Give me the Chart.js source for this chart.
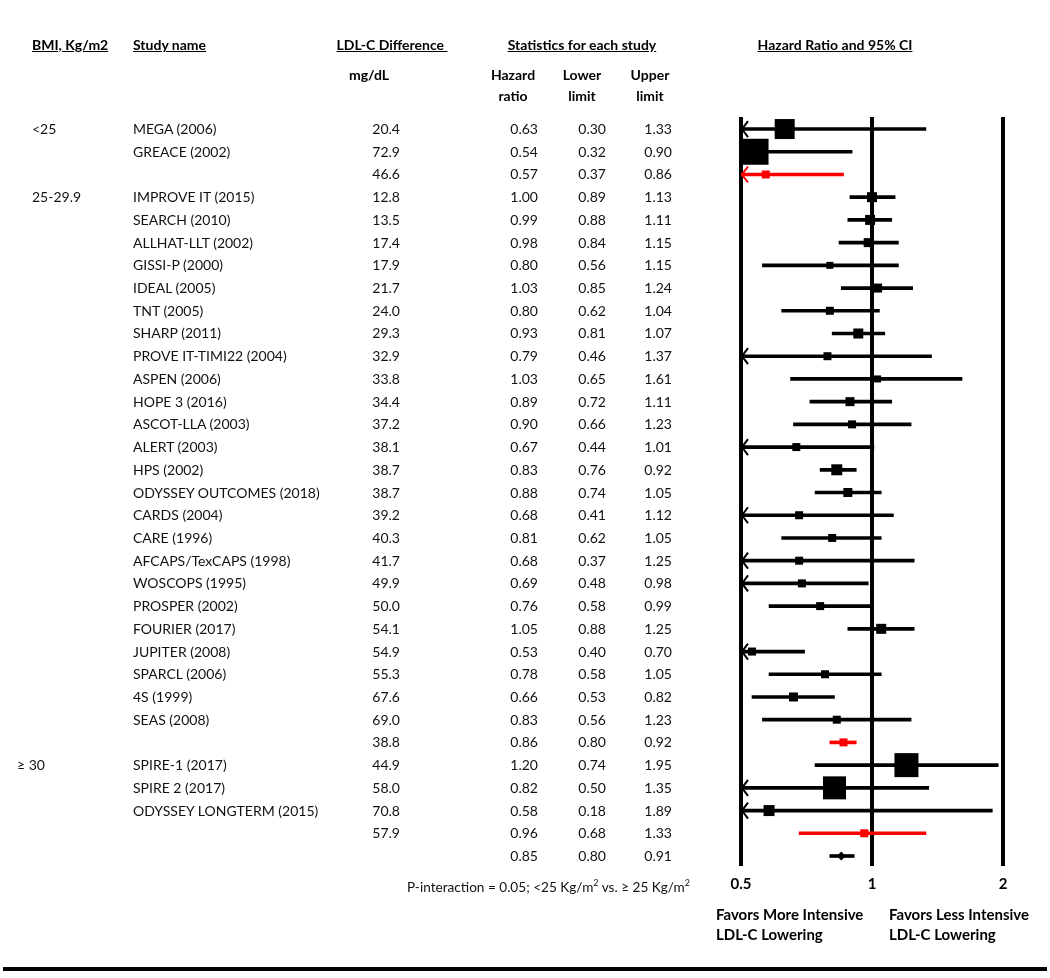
<!DOCTYPE html>
<html lang="en">
<head>
    <meta charset="UTF-8">
    <title>LDL-C lowering by BMI - forest plot</title>
    <script src="https://cdn.jsdelivr.net/npm/chart.js"></script>
    <style>
        body {
            margin: 0;
            background: #fff;
            font-family: Lato, "Noto Sans", sans-serif;
            color: #111;
        }
        #wrap {
            position: relative;
            width: 1050px;
            height: 978px;
            overflow: hidden;
        }
        #forest {
            position: absolute;
            left: 0;
            top: 0;
        }
        .t {
            position: absolute;
            height: 20px;
            line-height: 20px;
            font-size: 14px;
            white-space: nowrap;
        }
        .hd {
            font-weight: bold;
            color: #000;
        }
        .ul {
            text-decoration: underline;
        }
        .note {
            font-size: 13.6px;
        }
        .favor {
            font-size: 15px;
        }
        .rule {
            position: absolute;
            left: 3px;
            top: 967px;
            width: 1044px;
            height: 4px;
            background: #000;
        }
    </style>
</head>
<body>
<div id="wrap">
    <canvas id="forest" width="1050" height="978"></canvas>
    <div class="rule"></div>
</div>

<script>
    // rows, top to bottom ('' = pooled / overall row)
    const studyNames = ['MEGA (2006)', 'GREACE (2002)', '',
        'IMPROVE IT (2015)', 'SEARCH (2010)', 'ALLHAT-LLT (2002)', 'GISSI-P (2000)', 'IDEAL (2005)',
        'TNT (2005)', 'SHARP (2011)', 'PROVE IT-TIMI22 (2004)', 'ASPEN (2006)', 'HOPE 3 (2016)',
        'ASCOT-LLA (2003)', 'ALERT (2003)', 'HPS (2002)', 'ODYSSEY OUTCOMES (2018)', 'CARDS (2004)',
        'CARE (1996)', 'AFCAPS/TexCAPS (1998)', 'WOSCOPS (1995)', 'PROSPER (2002)', 'FOURIER (2017)',
        'JUPITER (2008)', 'SPARCL (2006)', '4S (1999)', 'SEAS (2008)', '',
        'SPIRE-1 (2017)', 'SPIRE 2 (2017)', 'ODYSSEY LONGTERM (2015)', '', ''];
    const ldlDiff = [20.4, 72.9, 46.6,
        12.8, 13.5, 17.4, 17.9, 21.7, 24.0, 29.3, 32.9, 33.8, 34.4, 37.2, 38.1, 38.7, 38.7,
        39.2, 40.3, 41.7, 49.9, 50.0, 54.1, 54.9, 55.3, 67.6, 69.0, 38.8,
        44.9, 58.0, 70.8, 57.9, null];
    const hazardRatio = [0.63, 0.54, 0.57,
        1.00, 0.99, 0.98, 0.80, 1.03, 0.80, 0.93, 0.79, 1.03, 0.89, 0.90, 0.67, 0.83, 0.88,
        0.68, 0.81, 0.68, 0.69, 0.76, 1.05, 0.53, 0.78, 0.66, 0.83, 0.86,
        1.20, 0.82, 0.58, 0.96, 0.85];
    const lowerLimit = [0.30, 0.32, 0.37,
        0.89, 0.88, 0.84, 0.56, 0.85, 0.62, 0.81, 0.46, 0.65, 0.72, 0.66, 0.44, 0.76, 0.74,
        0.41, 0.62, 0.37, 0.48, 0.58, 0.88, 0.40, 0.58, 0.53, 0.56, 0.80,
        0.74, 0.50, 0.18, 0.68, 0.80];
    const upperLimit = [1.33, 0.90, 0.86,
        1.13, 1.11, 1.15, 1.15, 1.24, 1.04, 1.07, 1.37, 1.61, 1.11, 1.23, 1.01, 0.92, 1.05,
        1.12, 1.05, 1.25, 0.98, 0.99, 1.25, 0.70, 1.05, 0.82, 1.23, 0.92,
        1.95, 1.35, 1.89, 1.33, 0.91];
    // relative study weight (drawn as square side)
    const studyWeight = [20, 26, 8,
        10, 10, 9, 7, 9, 8, 10, 8, 7, 9, 8, 8, 11, 9,
        8, 8, 8, 8, 8, 10, 8, 8, 9, 8, 8,
        24, 23, 11, 8, 9];
    const rowKind = ['study', 'study', 'pooled',
        'study', 'study', 'study', 'study', 'study', 'study', 'study', 'study', 'study', 'study',
        'study', 'study', 'study', 'study', 'study', 'study', 'study', 'study', 'study', 'study',
        'study', 'study', 'study', 'study', 'pooled',
        'study', 'study', 'study', 'pooled', 'overall'];
    const groupLabels = ['<25', '25-29.9', '\u2265 30'];
    const groupRows = [0, 3, 28];
    const xTicks = [0.5, 1, 2];

    const rowColor = (i) => rowKind[i] === 'pooled' ? '#ff0000' : '#000000';
    const colors = hazardRatio.map((_, i) => rowColor(i));

    // "<" mark where the interval runs past the left end of the axis
    const arrowPlugin = {
        id: 'ciArrows',
        afterDatasetDraw(chart, args) {
            if (args.index !== 0) return;
            const ctx = chart.ctx;
            const x = chart.scales.x, y = chart.scales.y;
            const x0 = x.getPixelForValue(xTicks[0]);
            ctx.save();
            ctx.lineWidth = 2;
            lowerLimit.forEach((lo, i) => {
                if (lo > xTicks[0]) return;
                const py = y.getPixelForValue(i);
                ctx.strokeStyle = colors[i];
                ctx.beginPath();
                ctx.moveTo(x0 + 7, py - 8);
                ctx.lineTo(x0 + 1, py);
                ctx.lineTo(x0 + 7, py + 8);
                ctx.stroke();
            });
            ctx.restore();
        }
    };

    const chart = new Chart(document.getElementById('forest'), {
        type: 'scatter',
        data: {
            datasets: [{
                type: 'bar',
                indexAxis: 'y',
                data: hazardRatio.map((_, i) => ({ y: i, x: [lowerLimit[i], upperLimit[i]] })),
                backgroundColor: colors,
                barThickness: 3,
                borderWidth: 0,
                clip: 0,
                order: 2
            }, {
                type: 'scatter',
                data: hazardRatio.map((v, i) => ({ x: v, y: i })),
                pointStyle: rowKind.map(k => k === 'overall' ? 'rectRot' : 'rect'),
                pointRadius: studyWeight.map((w, i) => rowKind[i] === 'overall' ? w / 2 : w / Math.SQRT2),
                backgroundColor: colors,
                borderWidth: 0,
                clip: false,
                order: 1
            }]
        },
        options: {
            responsive: false,
            animation: false,
            events: [],
            layout: {
                padding: { left: 741, right: 47, top: 117, bottom: 76 }
            },
            scales: {
                x: {
                    type: 'logarithmic',
                    min: 0.5,
                    max: 2,
                    offset: false,
                    afterBuildTicks: (axis) => { axis.ticks = xTicks.map(v => ({ value: v })); },
                    grid: { color: '#000', lineWidth: 4, drawTicks: false, offset: false },
                    border: { display: false },
                    ticks: {
                        padding: 9,
                        color: '#000',
                        font: { family: 'Lato', size: 15, weight: 'bold' },
                        callback: (v) => String(v)
                    }
                },
                y: {
                    type: 'linear',
                    reverse: true,
                    offset: false,
                    beginAtZero: false,
                    grid: { offset: false },
                    min: -0.53,
                    max: 32.44,
                    display: false
                }
            },
            plugins: {
                legend: { display: false },
                tooltip: { enabled: false }
            }
        },
        plugins: [arrowPlugin]
    });

    // table text, placed on the chart's own row positions
    const wrap = document.getElementById('wrap');
    function addText(txt, x, y, align, cls) {
        const d = document.createElement('div');
        d.className = 't ' + (cls || '');
        d.innerHTML = txt;
        d.style.top = (y - 10) + 'px';
        if (align === 'left') {
            d.style.left = x + 'px';
        } else if (align === 'right') {
            d.style.left = (x - 200) + 'px';
            d.style.width = '200px';
            d.style.textAlign = 'right';
        } else {
            d.style.left = (x - 150) + 'px';
            d.style.width = '300px';
            d.style.textAlign = 'center';
        }
        wrap.appendChild(d);
    }

    addText('BMI, Kg/m2', 32, 45, 'left', 'hd ul');
    addText('Study name', 133, 45, 'left', 'hd ul');
    addText('LDL-C Difference&nbsp;', 392, 45, 'center', 'hd ul');
    addText('mg/dL', 369, 75, 'center', 'hd');
    addText('Statistics for each study', 582, 45, 'center', 'hd ul');
    addText('Hazard Ratio and 95% CI', 835, 45, 'center', 'hd ul');
    addText('Hazard', 513, 75, 'center', 'hd');
    addText('ratio', 513, 96, 'center', 'hd');
    addText('Lower', 582, 75, 'center', 'hd');
    addText('limit', 582, 96, 'center', 'hd');
    addText('Upper', 650, 75, 'center', 'hd');
    addText('limit', 650, 96, 'center', 'hd');

    const yScale = chart.scales.y;
    groupLabels.forEach((g, k) => {
        addText(g, k === 2 ? 17 : 32, yScale.getPixelForValue(groupRows[k]), 'left');
    });
    studyNames.forEach((name, i) => {
        const py = yScale.getPixelForValue(i);
        if (name) addText(name, 133, py, 'left');
        if (ldlDiff[i] !== null) addText(ldlDiff[i].toFixed(1), 400, py, 'right');
        addText(hazardRatio[i].toFixed(2), 538, py, 'right');
        addText(lowerLimit[i].toFixed(2), 606, py, 'right');
        addText(upperLimit[i].toFixed(2), 672, py, 'right');
    });

    addText('P-interaction = 0.05; &lt;25 Kg/m<sup style="font-size:9px">2</sup> vs. \u2265 25 Kg/m<sup style="font-size:9px">2</sup>',
        407, 883, 'left', 'note');
    addText('Favors More Intensive', 716, 914, 'left', 'hd favor');
    addText('LDL-C Lowering', 716, 934, 'left', 'hd favor');
    addText('Favors Less Intensive', 889, 914, 'left', 'hd favor');
    addText('LDL-C Lowering', 889, 934, 'left', 'hd favor');
</script>
</body>
</html>
